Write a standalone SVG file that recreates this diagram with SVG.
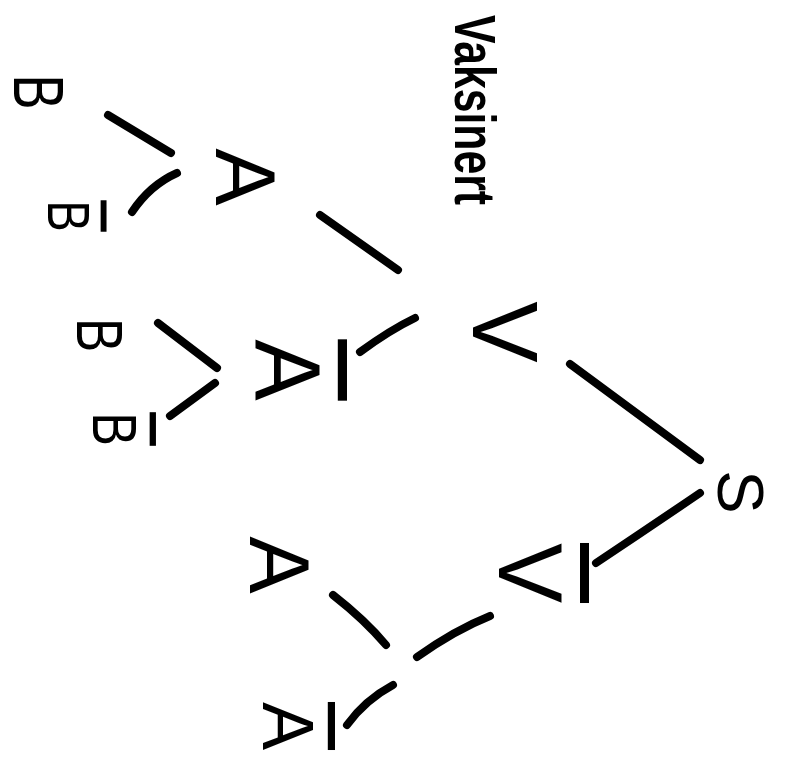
<svg xmlns="http://www.w3.org/2000/svg" width="785" height="760" viewBox="0 0 785 760">
<style>
.t{font-family:"Liberation Sans",Arial,sans-serif;fill:#000;text-anchor:middle}
.ttl{font-family:"Liberation Sans",Arial,sans-serif;fill:#000;text-anchor:start;font-weight:bold}
.ob{text-decoration:overline}
.c{stroke:#000;stroke-width:8;stroke-linecap:round;fill:none}
</style>
<rect width="785" height="760" fill="#fff"/>
<g id="title"><text class="ttl" transform="translate(455,15) rotate(90)" x="0" y="0" font-size="58" textLength="190" lengthAdjust="spacingAndGlyphs">Vaksinert</text></g>
<g id="nodeS"><text class="t" transform="translate(718,492) rotate(90)" font-size="65">S</text></g>
<g id="nodeV"><text class="t" transform="translate(473,332) rotate(90)" font-size="92">V</text></g>
<g id="nodeVbar"><text class="t ob" transform="translate(499,573) rotate(90)" font-size="90">V</text></g>
<g id="nodeA1"><text class="t" transform="translate(216,177) rotate(90)" font-size="86">A</text></g>
<g id="nodeAbar1"><text class="t ob" transform="translate(255,370) rotate(90)" font-size="92">A</text></g>
<g id="nodeA2"><text class="t" transform="translate(250,565) rotate(90)" font-size="86">A</text></g>
<g id="nodeAbar2"><text class="t ob" transform="translate(263,726) rotate(90)" font-size="72">A</text></g>
<g id="nodeB1"><text class="t" transform="translate(14,92) rotate(90) scale(0.75,1)" font-size="70">B</text></g>
<g id="nodeBbar1"><text class="t ob" transform="translate(48,216) rotate(90) scale(0.8,1)" font-size="59">B</text></g>
<g id="nodeB2"><text class="t" transform="translate(77,335) rotate(90) scale(0.8,1)" font-size="64">B</text></g>
<g id="nodeBbar2"><text class="t ob" transform="translate(93,429) rotate(90) scale(0.8,1)" font-size="63">B</text></g>
<g id="connectors">
<path class="c" d="M570,364 L700,460"/>
<path class="c" d="M596,563 Q650,527 700,493"/>
<path class="c" d="M320,215 L398,270"/>
<path class="c" d="M360,352 Q390,330 415,318"/>
<path class="c" d="M108,115 L171,153"/>
<path class="c" d="M177,173 Q150,185 132,212"/>
<path class="c" d="M158,323 L217,368"/>
<path class="c" d="M215,383 L170,416"/>
<path class="c" d="M333,595 Q365,620 386,645"/>
<path class="c" d="M417,657 Q455,630 490,616"/>
<path class="c" d="M347,725 Q365,700 393,685"/>
</g>
</svg>
